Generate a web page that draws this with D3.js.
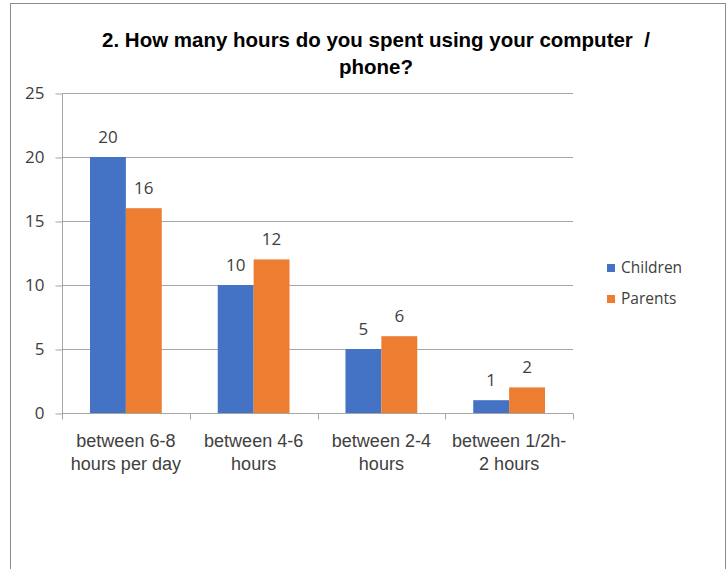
<!DOCTYPE html>
<html>
<head>
<meta charset="utf-8">
<script src="https://cdn.jsdelivr.net/npm/d3@7"></script>
<style>
  html, body { margin: 0; padding: 0; background: #fff; }
  svg { display: block; }
  .title { white-space: pre; }
</style>
</head>
<body>
<svg id="chart" width="728" height="569"></svg>
<script>
// Survey answers: hours per day spent on a computer / phone
const categories = [
  ["between 6-8", "hours per day"],
  ["between 4-6", "hours"],
  ["between 2-4", "hours"],
  ["between 1/2h-", "2 hours"]
];
const seriesNames = ["Children", "Parents"];
const children = [20, 10, 5, 1];
const parents = [16, 12, 6, 2];
const yTicks = [0, 5, 10, 15, 20, 25];
const titleLines = ["2. How many hours do you spent using your computer  /", "phone?"];

const colors = { Children: "#4472C4", Parents: "#ED7D31" };
const values = { Children: children, Parents: parents };

const svg = d3.select("#chart");
const titleFont = "'Liberation Sans', Arial, sans-serif";
const bodyFont = "'Open Sans', 'DejaVu Sans', sans-serif";
const catFont = "'Liberation Sans', Arial, sans-serif";

// chart frame
svg.append("rect")
  .attr("x", 10.5).attr("y", 3.5)
  .attr("width", 715).attr("height", 580)
  .attr("fill", "#fff").attr("stroke", "#8c8c8c").attr("stroke-width", 1);

const plot = { left: 62, right: 573, top: 93, bottom: 413 };

const x = d3.scaleBand()
  .domain(d3.range(categories.length))
  .range([plot.left, plot.right])
  .paddingInner(0).paddingOuter(0);

const x1 = d3.scaleBand()
  .domain(seriesNames)
  .range([0, x.bandwidth()])
  .paddingOuter(0.78).paddingInner(0);

const y = d3.scaleLinear().domain([0, 25]).range([plot.bottom, plot.top]);

// title
svg.append("text")
  .attr("class", "title")
  .attr("x", 375).attr("y", 47)
  .attr("text-anchor", "middle")
  .attr("font-family", titleFont).attr("font-weight", "bold")
  .attr("font-size", 20.5).attr("fill", "#000")
  .selectAll("tspan").data(titleLines).join("tspan")
  .attr("x", 376).attr("dy", (d, i) => i === 0 ? 0 : 27)
  .text(d => d);

// gridlines
svg.append("g")
  .selectAll("line").data(yTicks.filter(d => d > 0)).join("line")
  .attr("x1", plot.left).attr("x2", plot.right)
  .attr("y1", d => Math.round(y(d)) + 0.5).attr("y2", d => Math.round(y(d)) + 0.5)
  .attr("stroke", "#a6a6a6").attr("stroke-width", 1);

// y axis
const yAxis = d3.axisLeft(y).tickValues(yTicks).tickSize(7).tickPadding(11);
const gy = svg.append("g").attr("transform", `translate(${plot.left + 0.5},0.5)`).call(yAxis);
gy.select(".domain").attr("stroke", "#a6a6a6").attr("d", `M0,${plot.top}V${plot.bottom}`);
gy.selectAll(".tick line").attr("stroke", "#a6a6a6");
gy.selectAll(".tick text")
  .attr("font-family", bodyFont).attr("font-size", 17).attr("fill", "#404040");

// bars
const groups = svg.append("g").selectAll("g").data(categories).join("g")
  .attr("transform", (d, i) => `translate(${x(i)},0)`);

seriesNames.forEach(name => {
  groups.append("rect")
    .attr("x", x1(name))
    .attr("y", (d, i) => y(values[name][i]))
    .attr("width", x1.bandwidth())
    .attr("height", (d, i) => y(0) - y(values[name][i]))
    .attr("fill", colors[name]);
  groups.append("text")
    .attr("x", x1(name) + x1.bandwidth() / 2)
    .attr("y", (d, i) => y(values[name][i]) - 14)
    .attr("text-anchor", "middle")
    .attr("font-family", bodyFont).attr("font-size", 17).attr("fill", "#404040")
    .text((d, i) => values[name][i]);
});

// x axis
const gx = svg.append("g").attr("transform", `translate(0,${plot.bottom + 0.5})`);
gx.append("line").attr("x1", plot.left).attr("x2", plot.right)
  .attr("stroke", "#a6a6a6");
gx.selectAll(".tk").data(d3.range(categories.length + 1)).join("line")
  .attr("class", "tk")
  .attr("x1", i => Math.round(plot.left + i * x.bandwidth()) + 0.5)
  .attr("x2", i => Math.round(plot.left + i * x.bandwidth()) + 0.5)
  .attr("y1", 0).attr("y2", 6)
  .attr("stroke", "#a6a6a6");
gx.selectAll(".cat").data(categories).join("text")
  .attr("class", "cat")
  .attr("text-anchor", "middle")
  .attr("font-family", catFont).attr("font-size", 18).attr("fill", "#404040")
  .attr("transform", (d, i) => `translate(${x(i) + x.bandwidth() / 2},0)`)
  .selectAll("tspan").data(d => d).join("tspan")
  .attr("x", 0).attr("y", (d, i) => 33 + i * 23)
  .text(d => d);

// legend
const legend = svg.append("g").attr("transform", "translate(607,264)");
const li = legend.selectAll("g").data(seriesNames).join("g")
  .attr("transform", (d, i) => `translate(0,${i * 31})`);
li.append("rect").attr("width", 8).attr("height", 8).attr("fill", d => colors[d]);
li.append("text").attr("x", 14).attr("y", 4).attr("dy", "0.35em")
  .attr("font-family", bodyFont).attr("font-size", 15.5).attr("fill", "#404040")
  .text(d => d);
</script>
</body>
</html>
